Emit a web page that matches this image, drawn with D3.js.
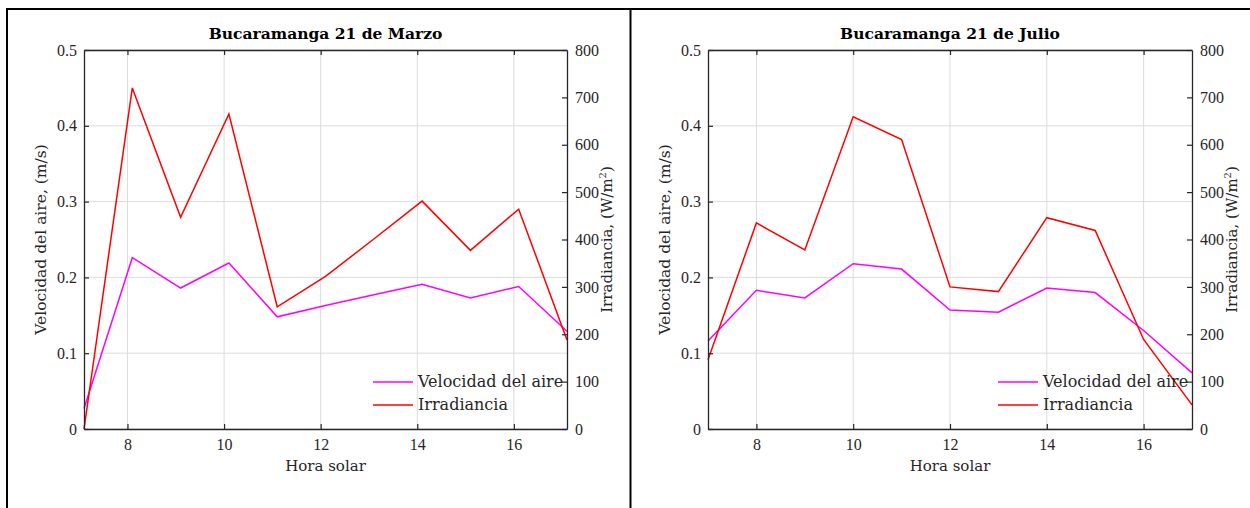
<!DOCTYPE html>
<html><head><meta charset="utf-8">
<script src="https://cdn.jsdelivr.net/npm/d3@7"></script>
<style>body{margin:0;background:#fff}svg{display:block}text{font-family:"DejaVu Serif",serif}</style>
</head><body><svg id="c" width="1250" height="508"></svg>
<script>
const horasMarzo = [7.1, 8.1, 9.1, 10.1, 11.1, 12.1, 13.1, 14.1, 15.1, 16.1, 17.1];
const velMarzo = [0.027, 0.226, 0.186, 0.219, 0.148, 0.163, 0.177, 0.191, 0.173, 0.188, 0.129];
const irrMarzo = [0, 720, 447, 665, 258, 322, 401, 481, 377, 464, 188];
const horasJulio = [7, 8, 9, 10, 11, 12, 13, 14, 15, 16, 17];
const velJulio = [0.116, 0.183, 0.173, 0.218, 0.211, 0.157, 0.154, 0.186, 0.180, 0.130, 0.074];
const irrJulio = [146, 435, 378, 659, 611, 300, 290, 446, 419, 189, 51];
const xTicks = [8, 10, 12, 14, 16];
const yLeftTicks = [0, 0.1, 0.2, 0.3, 0.4, 0.5];
const yRightTicks = [0, 100, 200, 300, 400, 500, 600, 700, 800];
const titles = ["Bucaramanga 21 de Marzo", "Bucaramanga 21 de Julio"];
const legendLabels = ["Velocidad del aire", "Irradiancia"];
const xLabel = "Hora solar";
const yLeftLabel = "Velocidad del aire, (m/s)";

const svg = d3.select("#c");
const AX = "#262626";
const WORDFONT = '"DejaVu Serif",serif';

// outer frame
svg.append("line").attr("x1",7).attr("x2",1250).attr("y1",9).attr("y2",9).attr("stroke","#000").attr("stroke-width",2);
svg.append("line").attr("x1",7).attr("x2",7).attr("y1",8).attr("y2",508).attr("stroke","#000").attr("stroke-width",2);
svg.append("line").attr("x1",630.5).attr("x2",630.5).attr("y1",8).attr("y2",508).attr("stroke","#000").attr("stroke-width",2);

function panel(x0, x1, horas, vel, irr, title){
  const y0 = 50, y1 = 429;
  const x = d3.scaleLinear().domain(d3.extent(horas)).range([x0, x1]);
  const yl = d3.scaleLinear().domain([0, 0.5]).range([y1, y0]);
  const yr = d3.scaleLinear().domain([0, 800]).range([y1, y0]);
  const g = svg.append("g");
  // grid
  g.selectAll(".gx").data(xTicks).join("line").attr("x1",d=>x(d)).attr("x2",d=>x(d)).attr("y1",y0).attr("y2",y1)
    .attr("stroke","#dcdcdc").attr("stroke-width",1);
  g.selectAll(".gy").data(yLeftTicks).join("line").attr("x1",x0).attr("x2",x1).attr("y1",d=>yl(d)).attr("y2",d=>yl(d))
    .attr("stroke","#dcdcdc").attr("stroke-width",1);
  // lines
  const lv = d3.line().x((d,i)=>x(horas[i])).y(d=>yl(d));
  const lr = d3.line().x((d,i)=>x(horas[i])).y(d=>yr(d));
  g.append("path").attr("d",lv(vel)).attr("fill","none").attr("stroke","#ff00ff").attr("stroke-width",1.5);
  g.append("path").attr("d",lr(irr)).attr("fill","none").attr("stroke","#ff0000").attr("stroke-width",1.5);
  // axes
  const fs = "16px";
  const bx = g.append("g").attr("transform",`translate(0,${y1})`).call(d3.axisBottom(x).tickValues(xTicks).tickSizeInner(-5).tickSizeOuter(0).tickPadding(10));
  const tx = g.append("g").attr("transform",`translate(0,${y0})`).call(d3.axisTop(x).tickValues(xTicks).tickSizeInner(-5).tickSizeOuter(0).tickFormat(""));
  const ly = g.append("g").attr("transform",`translate(${x0},0)`).call(d3.axisLeft(yl).tickValues(yLeftTicks).tickSizeInner(-5).tickSizeOuter(0).tickPadding(7).tickFormat(d=>d===0?"0":d3.format(".1f")(d)));
  const ry = g.append("g").attr("transform",`translate(${x1},0)`).call(d3.axisRight(yr).tickValues(yRightTicks).tickSizeInner(-5).tickSizeOuter(0).tickPadding(8));
  [bx,tx,ly,ry].forEach(a=>{
    a.select(".domain").attr("stroke",AX).attr("stroke-width",1.3);
    a.selectAll(".tick line").attr("stroke",AX).attr("stroke-width",1.2);
    a.selectAll(".tick text").attr("fill",AX).style("font-size",fs).style("font-family",'"Liberation Serif",serif');
  });
  // title
  g.append("text").attr("x",(x0+x1)/2).attr("y",39).attr("text-anchor","middle").style("font-weight","bold").style("font-size","15.5px").style("font-family",WORDFONT).attr("fill","#000").text(title);
  // x label
  g.append("text").attr("x",(x0+x1)/2).attr("y",471).attr("text-anchor","middle").style("font-size","15px").attr("fill",AX).text(xLabel);
  // y labels
  g.append("text").attr("transform",`translate(${x0-38},${(y0+y1)/2}) rotate(-90)`).attr("text-anchor","middle").style("font-size","15.5px").attr("fill",AX).text(yLeftLabel);
  const rt = g.append("text").attr("transform",`translate(${x1+45},${(y0+y1)/2}) rotate(-90)`).attr("text-anchor","middle").style("font-size","15px").attr("fill",AX);
  rt.append("tspan").text("Irradiancia, (W/m");
  rt.append("tspan").attr("dy",-6).style("font-size","10px").text("2");
  rt.append("tspan").attr("dy",6).text(")");
  // legend
  const lx = x1 - 194;
  const cols = ["#ff00ff","#ff0000"];
  legendLabels.forEach((t,i)=>{
    const yy = 382 + i*23;
    g.append("line").attr("x1",lx).attr("x2",lx+40).attr("y1",yy).attr("y2",yy).attr("stroke",cols[i]).attr("stroke-width",1.5);
    g.append("text").attr("x",lx+45).attr("y",yy+5).style("font-size","16px").attr("fill",AX).text(t);
  });
}
panel(84, 567, horasMarzo, velMarzo, irrMarzo, titles[0]);
panel(708, 1192, horasJulio, velJulio, irrJulio, titles[1]);
</script></body></html>
